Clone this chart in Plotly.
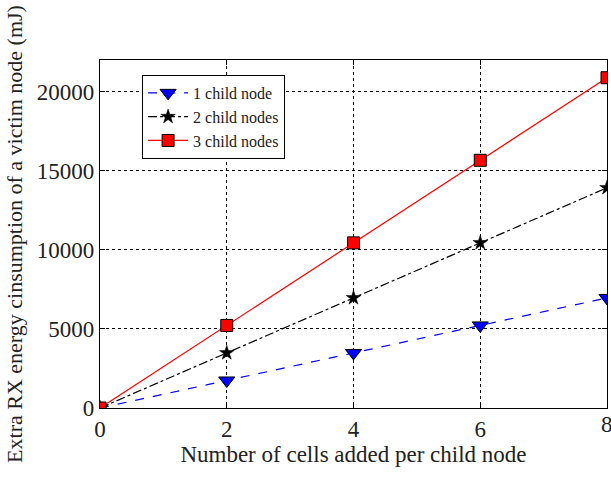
import plotly.graph_objects as go

cells = [0, 2, 4, 6, 8]
one_child = [0, 1740, 3480, 5220, 6960]
two_child = [0, 3480, 6960, 10440, 13920]
three_child = [0, 5220, 10440, 15660, 20880]
x_ticks = [0, 2, 4, 6, 8]
y_ticks = [0, 5000, 10000, 15000, 20000]

FONT = "Liberation Serif"
TXT = "#222"

fig = go.Figure()
fig.add_trace(go.Scatter(
    x=cells, y=one_child, name="1 child node", mode="lines+markers",
    line=dict(color="blue", width=1.2, dash="dash"),
    marker=dict(symbol="triangle-down", size=14, color="blue", line=dict(color="black", width=1))))
fig.add_trace(go.Scatter(
    x=cells, y=two_child, name="2 child nodes", mode="lines+markers",
    line=dict(color="black", width=1.2, dash="dashdot"),
    marker=dict(symbol="star", size=11, color="black", line=dict(color="black", width=0.5))))
fig.add_trace(go.Scatter(
    x=cells, y=three_child, name="3 child nodes", mode="lines+markers",
    line=dict(color="red", width=1.2),
    marker=dict(symbol="square", size=12, color="red", line=dict(color="black", width=1))))

axis_common = dict(
    showline=True, linecolor="black", linewidth=1.2, mirror="ticks",
    ticks="inside", ticklen=5, tickcolor="black", tickwidth=1,
    showgrid=True, gridcolor="black", griddash="dot", gridwidth=1,
    zeroline=False, tickfont=dict(family=FONT, size=23, color=TXT),
)

fig.update_layout(
    width=611, height=482,
    margin=dict(l=100, r=4, t=60, b=74),
    paper_bgcolor="white", plot_bgcolor="white",
    font=dict(family=FONT, color=TXT),
    showlegend=True,
    legend=dict(x=0.083, y=0.957, xanchor="left", yanchor="top",
                bordercolor="black", borderwidth=1, bgcolor="white",
                font=dict(family=FONT, size=16, color=TXT),
                tracegroupgap=0, itemwidth=40),
    xaxis=dict(range=[0, 8], tickvals=x_ticks, ticktext=[str(v) for v in x_ticks],
               title=dict(text="Number of cells added per child node",
                          font=dict(family=FONT, size=23, color=TXT), standoff=0),
               **axis_common),
    yaxis=dict(range=[0, 22000], tickvals=y_ticks, ticktext=[str(v) for v in y_ticks],
               title=dict(text="Extra RX energy cinsumption of a victim node (mJ)",
                          font=dict(family=FONT, size=22, color=TXT), standoff=8),
               **axis_common),
)

# the last x tick label is clipped at the right figure edge in the reference
fig.add_annotation(x=x_ticks[-1], y=0, xref="x", yref="paper", text=str(x_ticks[-1]),
                   showarrow=False, yanchor="top", xanchor="center", yshift=-2,
                   font=dict(family=FONT, size=23, color=TXT))

fig.write_html("out.html")
